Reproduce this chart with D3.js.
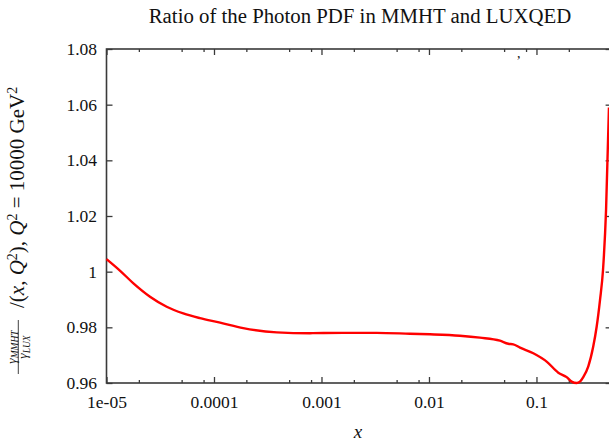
<!DOCTYPE html>
<html>
<head>
<meta charset="utf-8">
<script src="https://cdn.jsdelivr.net/npm/d3@7/dist/d3.min.js"></script>
<style>
  html, body { margin: 0; padding: 0; background: #fff; overflow: hidden; }
  svg { display: block; }
  text { font-family: "Liberation Serif", "Times New Roman", serif; fill: #111; }
</style>
</head>
<body>
<svg id="chart" width="609" height="444"></svg>
<script>
// Photon PDF ratio MMHT / LUXQED at Q^2 = 10000 GeV^2
const xValues = [
  1e-5, 1.34e-5, 1.78e-5, 2.54e-5, 3.63e-5, 5.18e-5, 7.41e-5, 1.14e-4,
  1.87e-4, 3.83e-4, 7.81e-4, 1.58e-3, 3.26e-3, 6.65e-3, 0.0102, 0.0194,
  0.0298, 0.0457, 0.0547, 0.0608, 0.0703, 0.0934, 0.1244, 0.1596,
  0.191, 0.2125, 0.2365, 0.254, 0.2725, 0.303, 0.337, 0.363,
  0.390, 0.416, 0.444, 0.4724
];
const ratioValues = [
  1.0045, 1.0003, 0.9958, 0.9910, 0.9874, 0.9850, 0.9833, 0.9817,
  0.9797, 0.9782, 0.9779, 0.9780, 0.9780, 0.9777, 0.9775, 0.9770,
  0.9763, 0.9752, 0.9741, 0.9739, 0.9727, 0.9707, 0.9677, 0.9637,
  0.9621, 0.9605, 0.9600, 0.9605, 0.9621, 0.9659, 0.9730, 0.9802,
  0.9898, 1.0006, 1.0222, 1.0590
];
const yTickValues = [0.96, 0.98, 1.00, 1.02, 1.04, 1.06, 1.08];
const yTickLabels = ["0.96", "0.98", "1", "1.02", "1.04", "1.06", "1.08"];
const xTickValues = [1e-5, 1e-4, 1e-3, 1e-2, 1e-1];
const xTickLabels = ["1e-05", "0.0001", "0.001", "0.01", "0.1"];
const xMinorFactors = [2, 5, 8];

const plotLeft = 106.5, plotTop = 49, plotBottom = 383, plotRight = 611.6;

const svg = d3.select("#chart");

const x = d3.scaleLog().domain([1e-5, 0.5]).range([plotLeft, plotRight]);
const y = d3.scaleLinear().domain([0.96, 1.08]).range([plotBottom, plotTop]);

const minorTicks = [];
for (let e = -5; e <= -1; e++) {
  xMinorFactors.forEach(f => {
    const v = f * Math.pow(10, e);
    if (v <= 0.5) minorTicks.push(v);
  });
}
minorTicks.push(0.5);

const axisColor = "#3a3a3a";
const tickFont = "17.5px";

function styleAxis(g) {
  g.select(".domain").remove();
  g.selectAll(".tick line").attr("stroke", axisColor).attr("stroke-width", 1.3);
  g.selectAll(".tick text").attr("fill", "#111").style("font-size", tickFont)
    .style("font-family", "'Liberation Serif', serif");
}

// bottom axis: major with labels, minor unlabeled
svg.append("g").attr("transform", `translate(0,${plotBottom})`)
  .call(d3.axisBottom(x).tickValues(xTickValues)
    .tickFormat((d, i) => xTickLabels[i]).tickSizeInner(-6).tickSizeOuter(0).tickPadding(13))
  .call(styleAxis);
svg.append("g").attr("transform", `translate(0,${plotBottom})`)
  .call(d3.axisBottom(x).tickValues(minorTicks).tickFormat("").tickSizeInner(-3).tickSizeOuter(0))
  .call(styleAxis);

// top axis mirrors the bottom ticks
svg.append("g").attr("transform", `translate(0,${plotTop})`)
  .call(d3.axisTop(x).tickValues(xTickValues).tickFormat("").tickSizeInner(-6).tickSizeOuter(0))
  .call(styleAxis);
svg.append("g").attr("transform", `translate(0,${plotTop})`)
  .call(d3.axisTop(x).tickValues(minorTicks).tickFormat("").tickSizeInner(-3).tickSizeOuter(0))
  .call(styleAxis);

// left axis with labels, right axis mirrored
svg.append("g").attr("transform", `translate(${plotLeft},0)`)
  .call(d3.axisLeft(y).tickValues(yTickValues)
    .tickFormat((d, i) => yTickLabels[i]).tickSizeInner(-6).tickSizeOuter(0).tickPadding(9.5))
  .call(styleAxis);
svg.append("g").attr("transform", `translate(${plotRight},0)`)
  .call(d3.axisRight(y).tickValues(yTickValues).tickFormat("").tickSizeInner(-6).tickSizeOuter(0))
  .call(styleAxis);

// frame
svg.append("rect")
  .attr("x", plotLeft).attr("y", plotTop)
  .attr("width", plotRight - plotLeft).attr("height", plotBottom - plotTop)
  .attr("fill", "none").attr("stroke", axisColor).attr("stroke-width", 1.6);

// ratio curve
const line = d3.line()
  .x((d, i) => x(xValues[i]))
  .y(d => y(d))
  .curve(d3.curveMonotoneX);

svg.append("path")
  .datum(ratioValues)
  .attr("d", line)
  .attr("fill", "none")
  .attr("stroke", "#ff0000")
  .attr("stroke-width", 2.4)
  .attr("stroke-linejoin", "round");

// title
svg.append("text")
  .attr("x", 360).attr("y", 23)
  .attr("text-anchor", "middle")
  .style("font-size", "20.8px")
  .text("Ratio of the Photon PDF in MMHT and LUXQED");

// stray legend key mark
svg.append("text")
  .attr("x", 517).attr("y", 58)
  .style("font-size", "14px")
  .text(",");

// x axis label
svg.append("text")
  .attr("x", 358).attr("y", 438)
  .attr("text-anchor", "middle")
  .style("font-size", "19px").style("font-style", "italic")
  .text("x");

// y axis label (rotated)
const yl = svg.append("g").attr("transform", "rotate(-90)");
const num = yl.append("text")
  .attr("x", -347).attr("y", 15.5)
  .attr("text-anchor", "middle").style("font-size", "13.5px").style("font-style", "italic");
num.append("tspan").text("γ");
num.append("tspan").attr("dy", 2.5).style("font-size", "9.5px").text("MMHT");

yl.append("line")
  .attr("x1", -374).attr("x2", -320)
  .attr("y1", 18.3).attr("y2", 18.3)
  .attr("stroke", "#111").attr("stroke-width", 0.8);

const den = yl.append("text")
  .attr("x", -347).attr("y", 27)
  .attr("text-anchor", "middle").style("font-size", "13.5px").style("font-style", "italic");
den.append("tspan").text("γ");
den.append("tspan").attr("dy", 2.5).style("font-size", "9.5px").text("LUX");

const main = yl.append("text")
  .attr("x", -308).attr("y", 24)
  .attr("text-anchor", "start").style("font-size", "21px");
main.append("tspan").text("/(");
main.append("tspan").style("font-style", "italic").text("x");
main.append("tspan").text(", ");
main.append("tspan").style("font-style", "italic").text("Q");
main.append("tspan").attr("dy", -7).style("font-size", "14px").text("2");
main.append("tspan").attr("dy", 7).text("), ");
main.append("tspan").style("font-style", "italic").text("Q");
main.append("tspan").attr("dy", -7).style("font-size", "14px").text("2");
main.append("tspan").attr("dy", 7).text(" = 10000 GeV");
main.append("tspan").attr("dy", -7).style("font-size", "14px").text("2");
</script>
</body>
</html>
